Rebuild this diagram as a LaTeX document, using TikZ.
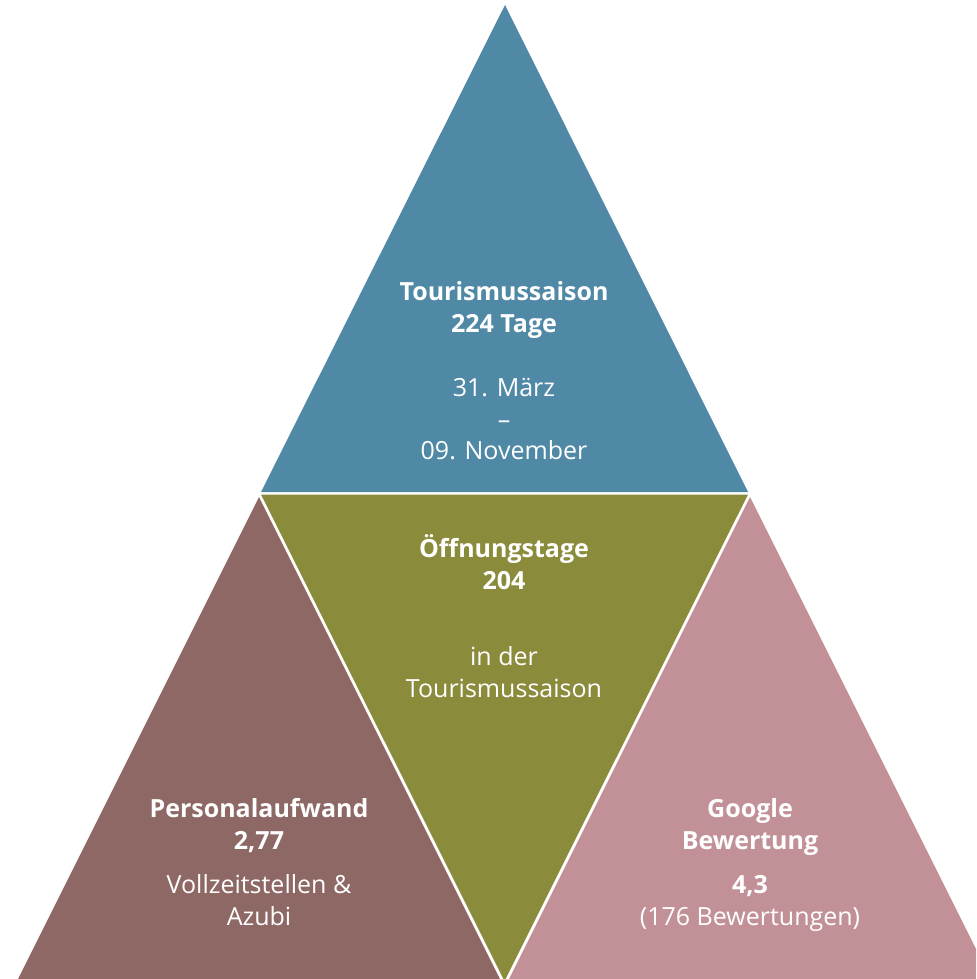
\documentclass[tikz,border=0pt]{standalone}
\usepackage{fontspec}
\setmainfont{Open Sans}
\definecolor{cblue}{RGB}{79,137,166}
\definecolor{colive}{RGB}{139,139,60}
\definecolor{cbrown}{RGB}{142,104,101}
\definecolor{cpink}{RGB}{194,145,152}
\tikzset{
  lbl/.style={text=white, inner sep=0pt, anchor=base, font=\fontsize{18.75pt}{22pt}\selectfont},
  lblb/.style={lbl, font=\fontsize{18.75pt}{22pt}\selectfont\bfseries},
}
\begin{document}
\begin{tikzpicture}[x=0.75pt,y=-0.75pt]
\useasboundingbox (0,0) rectangle (976,979);
\clip (0,0) rectangle (976,979);
% triangles
\fill[cblue] (505,5) -- (748,492) -- (261,492) -- cycle;
\fill[colive] (261,494.5) -- (748,494.5) -- (504.5,981) -- cycle;
\fill[cbrown] (259,497) -- (500,979) -- (18,979) -- cycle;
\fill[cpink] (750,497) -- (991,979) -- (509,979) -- cycle;
% top text
\node[lblb] (t1) at (504,300) {Tourismussaison};
\node[lblb] (t2) at (504,332) {224 Tage};
\node[lbl] (t3) at (504,396) {31. März};
\node[lbl] (t4) at (504,428) {–};
\node[lbl] (t5) at (504,459) {09. November};
% middle text
\node[lblb] (m1) at (504,557) {Öffnungstage};
\node[lblb] (m2) at (504,589) {204};
\node[lbl] (m3) at (504,665) {in der};
\node[lbl] (m4) at (504,697) {Tourismussaison};
% left text
\node[lblb] (l1) at (259,817) {Personalaufwand};
\node[lblb] (l2) at (259,849) {2,77};
\node[lbl] (l3) at (259,893) {Vollzeitstellen \&};
\node[lbl] (l4) at (259,925) {Azubi};
% right text
\node[lblb] (r1) at (750,817) {Google};
\node[lblb] (r2) at (750,849) {Bewertung};
\node[lblb] (r3) at (750,893) {4,3};
\node[lbl] (r4) at (750,925) {(176 Bewertungen)};
\end{tikzpicture}
\end{document}
